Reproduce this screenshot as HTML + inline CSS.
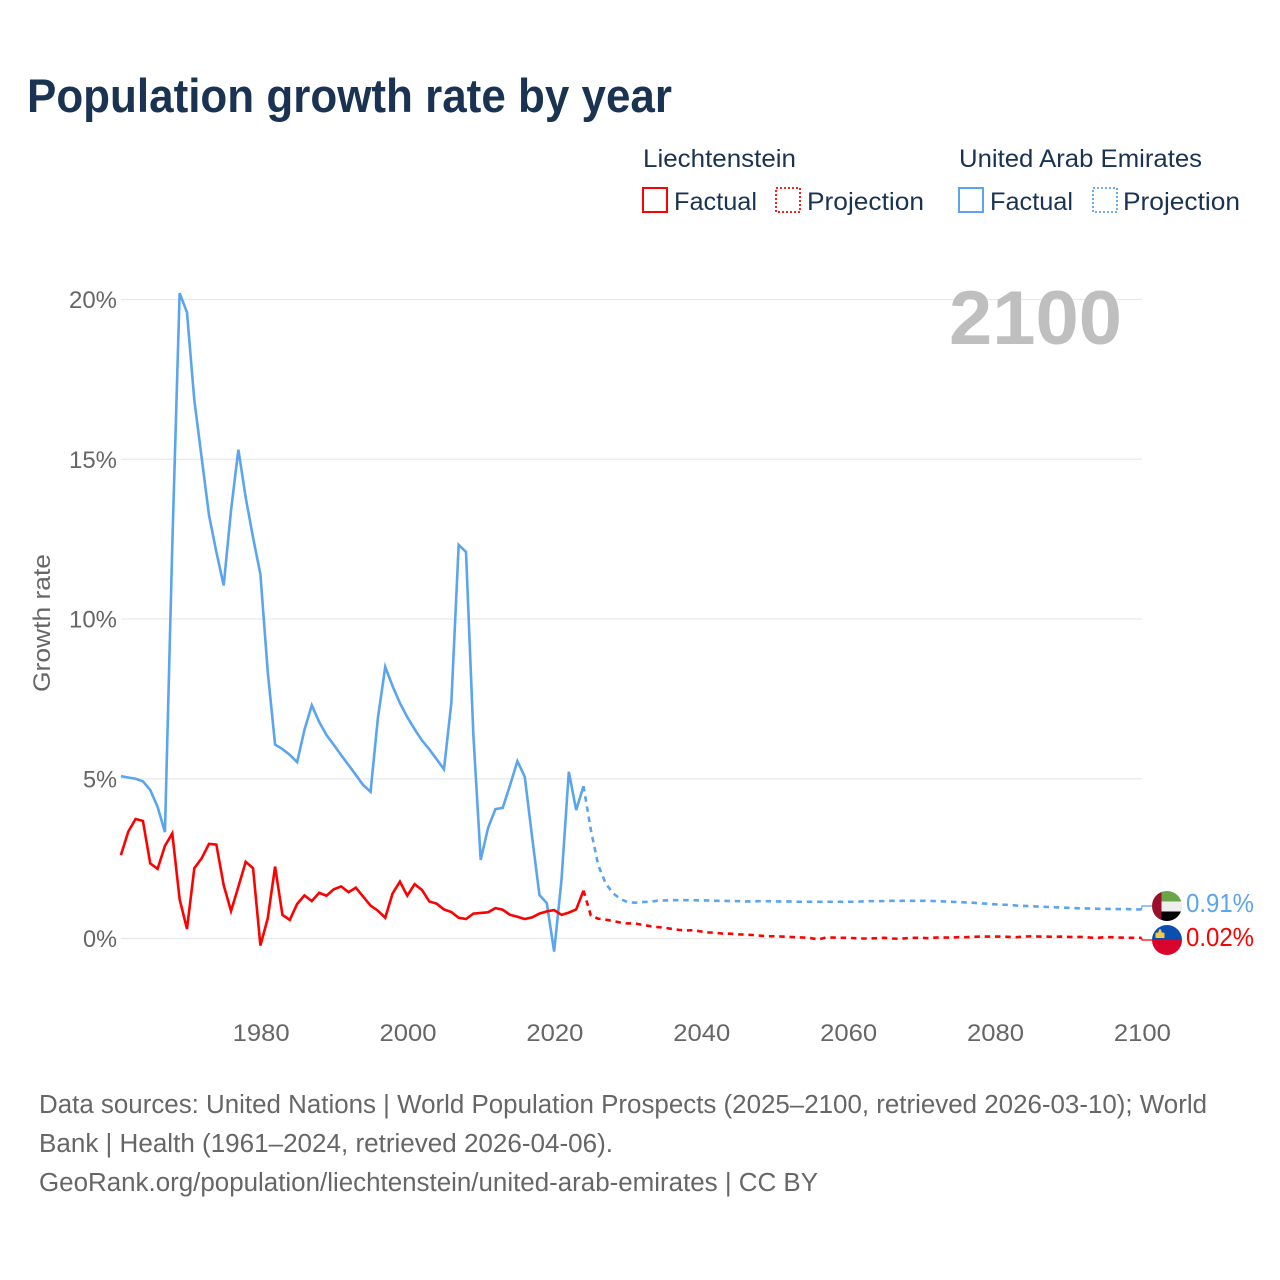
<!DOCTYPE html>
<html lang="en">
<head>
<meta charset="utf-8">
<title>Population growth rate by year</title>
<style>
html,body{margin:0;padding:0;background:#fff;width:1280px;height:1280px;overflow:hidden}
svg{display:block}
text{font-family:"Liberation Sans",sans-serif}
</style>
</head>
<body>
<svg id="chart" xmlns="http://www.w3.org/2000/svg" width="1280" height="1280" viewBox="0 0 1280 1280">
  <text x="27" y="112" font-size="47" font-weight="700" fill="#1a3352" textLength="645" lengthAdjust="spacingAndGlyphs">Population growth rate by year</text>

  <g fill="#1a3352" font-size="25">
    <text x="643" y="167" textLength="153" lengthAdjust="spacingAndGlyphs">Liechtenstein</text>
    <text x="959" y="167" textLength="243" lengthAdjust="spacingAndGlyphs">United Arab Emirates</text>

    <g>
      <rect x="643" y="188" width="24" height="24" fill="none" stroke="#ff0000" stroke-width="2"/>
      <text x="674" y="210" textLength="83" lengthAdjust="spacingAndGlyphs">Factual</text>
    </g>
    <g>
      <rect x="776" y="188" width="24" height="24" fill="none" stroke="#ff0000" stroke-width="1.8" stroke-dasharray="2 2"/>
      <text x="807" y="210" textLength="117" lengthAdjust="spacingAndGlyphs">Projection</text>
    </g>
    <g>
      <rect x="959" y="188" width="24" height="24" fill="none" stroke="#5ba4ee" stroke-width="2"/>
      <text x="990" y="210" textLength="83" lengthAdjust="spacingAndGlyphs">Factual</text>
    </g>
    <g>
      <rect x="1093" y="188" width="24" height="24" fill="none" stroke="#5ba4ee" stroke-width="1.8" stroke-dasharray="2 2"/>
      <text x="1123" y="210" textLength="117" lengthAdjust="spacingAndGlyphs">Projection</text>
    </g>
  </g>

  <text transform="translate(50,623) rotate(-90)" text-anchor="middle" font-size="24" fill="#666666" textLength="138" lengthAdjust="spacingAndGlyphs">Growth rate</text>

  <g id="grid"></g>
  <text x="949" y="344" font-size="76" font-weight="700" fill="#bfbfbf" textLength="173" lengthAdjust="spacingAndGlyphs">2100</text>
  <g id="yticks"></g>
  <g id="xticks"></g>
  <g id="series"></g>

  <defs>
    <clipPath id="flag-clip-uae"><circle cx="1167" cy="906" r="15"/></clipPath>
    <clipPath id="flag-clip-li"><circle cx="1167" cy="940" r="15"/></clipPath>
  </defs>
  <g clip-path="url(#flag-clip-uae)">
    <rect x="1152" y="891" width="30" height="10.500" fill="#6aa548"/>
    <rect x="1152" y="901.500" width="30" height="10" fill="#eeeeee"/>
    <rect x="1152" y="911.500" width="30" height="9.500" fill="#000000"/>
    <rect x="1152" y="891" width="9.500" height="30" fill="#9c0f2b"/>
  </g>
  <g clip-path="url(#flag-clip-li)">
    <rect x="1152" y="925" width="30" height="15" fill="#0b4fb0"/>
    <rect x="1152" y="940" width="30" height="15" fill="#d9042b"/>
    <path d="M1155.500 938 L1155.500 933 Q1157.500 932 1158 933 Q1159 929 1160 929 Q1161 929 1162 933 Q1162.500 932 1164.500 933 L1164.500 938 Z" fill="#f6c945"/>
  </g>
  <text x="1186" y="912" font-size="26" fill="#5ba4ee" textLength="68" lengthAdjust="spacingAndGlyphs">0.91%</text>
  <text x="1186" y="946" font-size="26" fill="#ff0000" textLength="68" lengthAdjust="spacingAndGlyphs">0.02%</text>

  <g font-size="25.500" fill="#666666">
    <text x="39" y="1113" textLength="1168" lengthAdjust="spacingAndGlyphs">Data sources: United Nations | World Population Prospects (2025–2100, retrieved 2026-03-10); World</text>
    <text x="39" y="1152" textLength="574" lengthAdjust="spacingAndGlyphs">Bank | Health (1961–2024, retrieved 2026-04-06).</text>
    <text x="39" y="1191" textLength="779" lengthAdjust="spacingAndGlyphs">GeoRank.org/population/liechtenstein/united-arab-emirates | CC BY</text>
  </g>
</svg>

<script>
const yTickValues = [0, 5, 10, 15, 20];
const yTickLabels = ["0%", "5%", "10%", "15%", "20%"];
const xTickValues = [1980, 2000, 2020, 2040, 2060, 2080, 2100];
const xTickLabels = ["1980", "2000", "2020", "2040", "2060", "2080", "2100"];

const factualStartYear = 1961;
const projectionStartYear = 2024;

const uaeFactual = [
  5.08, 5.04, 5.00, 4.92, 4.65, 4.12, 3.33, 12.3, 20.2, 19.6,
  16.85, 15.05, 13.25, 12.1, 11.05, 13.4, 15.3, 13.8, 12.55, 11.4,
  8.35, 6.07, 5.93, 5.75, 5.52, 6.53, 7.3, 6.78, 6.37, 6.06,
  5.74, 5.43, 5.12, 4.80, 4.59, 6.9, 8.5, 7.9, 7.37, 6.93,
  6.55, 6.2, 5.92, 5.61, 5.3, 7.37, 12.32, 12.1, 6.37, 2.46,
  3.46, 4.05, 4.09, 4.8, 5.55, 5.06, 3.18, 1.36, 1.11, -0.41,
  1.83, 5.22, 4.02, 4.77
];

const liechtensteinFactual = [
  2.61, 3.34, 3.74, 3.68, 2.35, 2.18, 2.9, 3.29, 1.23, 0.3,
  2.2, 2.51, 2.96, 2.94, 1.67, 0.86, 1.62, 2.4, 2.2, -0.22,
  0.63, 2.25, 0.74, 0.58, 1.08, 1.35, 1.17, 1.43, 1.34, 1.54,
  1.63, 1.45, 1.59, 1.31, 1.03, 0.87, 0.65, 1.41, 1.78, 1.34,
  1.70, 1.52, 1.16, 1.09, 0.91, 0.83, 0.65, 0.61, 0.78, 0.80,
  0.82, 0.95, 0.90, 0.74, 0.68, 0.61, 0.66, 0.78, 0.85, 0.89,
  0.74, 0.81, 0.91, 1.50
];

const uaeProjection = [
  4.77, 3.4, 2.3, 1.73, 1.42, 1.24, 1.14, 1.12, 1.14, 1.15,
  1.18, 1.19, 1.20, 1.20, 1.20, 1.20, 1.19, 1.19, 1.18, 1.18,
  1.17, 1.17, 1.16, 1.16, 1.17, 1.17, 1.16, 1.16, 1.16, 1.15,
  1.15, 1.15, 1.15, 1.15, 1.15, 1.15, 1.15, 1.15, 1.16, 1.17,
  1.17, 1.17, 1.18, 1.18, 1.18, 1.18, 1.18, 1.18, 1.17, 1.16,
  1.15, 1.14, 1.13, 1.12, 1.10, 1.09, 1.07, 1.06, 1.05, 1.03,
  1.02, 1.01, 1.00, 0.99, 0.98, 0.97, 0.96, 0.95, 0.94, 0.94,
  0.93, 0.93, 0.92, 0.92, 0.92, 0.91, 0.91
];

const liechtensteinProjection = [
  1.50, 0.72, 0.62, 0.59, 0.55, 0.50, 0.47, 0.47, 0.43, 0.39,
  0.36, 0.34, 0.30, 0.27, 0.25, 0.26, 0.22, 0.19, 0.18, 0.15,
  0.15, 0.13, 0.12, 0.11, 0.09, 0.07, 0.07, 0.06, 0.05, 0.04,
  0.03, 0.01, -0.03, 0.03, 0.03, 0.02, 0.02, 0.01, 0.00, 0.00,
  0.01, 0.02, 0.00, -0.01, 0.01, 0.02, 0.02, 0.01, 0.03, 0.03,
  0.03, 0.04, 0.04, 0.05, 0.06, 0.06, 0.06, 0.06, 0.05, 0.04,
  0.06, 0.07, 0.06, 0.06, 0.05, 0.06, 0.05, 0.05, 0.05, 0.03,
  0.02, 0.04, 0.04, 0.03, 0.02, 0.02, 0.02
];

const SVG_NS = "http://www.w3.org/2000/svg";

function xScale(year) {
  return 260.4 + (year - 1980) * (1141.6 - 260.4) / (2100 - 1980);
}
function yScale(value) {
  return 938.5 - value * (938.5 - 299.5) / 20;
}
function linePath(values, startYear) {
  return values.map(function (v, i) {
    return (i ? "L" : "M") + xScale(startYear + i).toFixed(2) + " " + yScale(v).toFixed(2);
  }).join(" ");
}
function make(tag, attrs, parent) {
  const el = document.createElementNS(SVG_NS, tag);
  Object.keys(attrs).forEach(function (k) { el.setAttribute(k, attrs[k]); });
  parent.appendChild(el);
  return el;
}

const gridGroup = document.getElementById("grid");
const yTickGroup = document.getElementById("yticks");
yTickValues.forEach(function (v, i) {
  const gridLine = make("line", {x1: 121, x2: 1142, y1: yScale(v), y2: yScale(v), stroke: "#e9e9e9", "stroke-width": 1.2}, gridGroup);
  
  
  const label = make("text", {x: 117, y: yScale(v) + 8.5, "text-anchor": "end", "font-size": 24, fill: "#666666", textLength: yTickLabels[i].length === 3 ? 48 : 34, lengthAdjust: "spacingAndGlyphs"}, yTickGroup);
  
  
  label.textContent = yTickLabels[i];
});

const xTickGroup = document.getElementById("xticks");
xTickValues.forEach(function (v, i) {
  const label = make("text", {x: xScale(v) + 0.8, y: 1041, "text-anchor": "middle", "font-size": 24, fill: "#666666", textLength: 57, lengthAdjust: "spacingAndGlyphs"}, xTickGroup);
  
  
  label.textContent = xTickLabels[i];
});

const seriesGroup = document.getElementById("series");

const uaeFactualLine = make("path", {d: linePath(uaeFactual, factualStartYear), fill: "none", stroke: "#5ba4ee", "stroke-width": 2.6, "stroke-linejoin": "miter"}, seriesGroup);



const liFactualLine = make("path", {d: linePath(liechtensteinFactual, factualStartYear), fill: "none", stroke: "#ff0000", "stroke-width": 2.6, "stroke-linejoin": "miter"}, seriesGroup);



const uaeProjectionLine = make("path", {d: linePath(uaeProjection, projectionStartYear), fill: "none", stroke: "#5ba4ee", "stroke-width": 2.6, "stroke-dasharray": "5.5 4.8"}, seriesGroup);



const liProjectionLine = make("path", {d: linePath(liechtensteinProjection, projectionStartYear), fill: "none", stroke: "#ff0000", "stroke-width": 2.6, "stroke-dasharray": "5.5 4.8"}, seriesGroup);



const uaeLast = uaeProjection[uaeProjection.length - 1];
const uaeConnector = make("path", {d: "M" + xScale(2100) + " " + yScale(uaeLast) + " L1142 906 L1152 906", fill: "none", stroke: "#5ba4ee", "stroke-width": 1.2}, seriesGroup);



const liLast = liechtensteinProjection[liechtensteinProjection.length - 1];
const liConnector = make("path", {d: "M" + xScale(2100) + " " + yScale(liLast) + " L1142 940 L1152 940", fill: "none", stroke: "#ff0000", "stroke-width": 1.2}, seriesGroup);


</script>
</body>
</html>
